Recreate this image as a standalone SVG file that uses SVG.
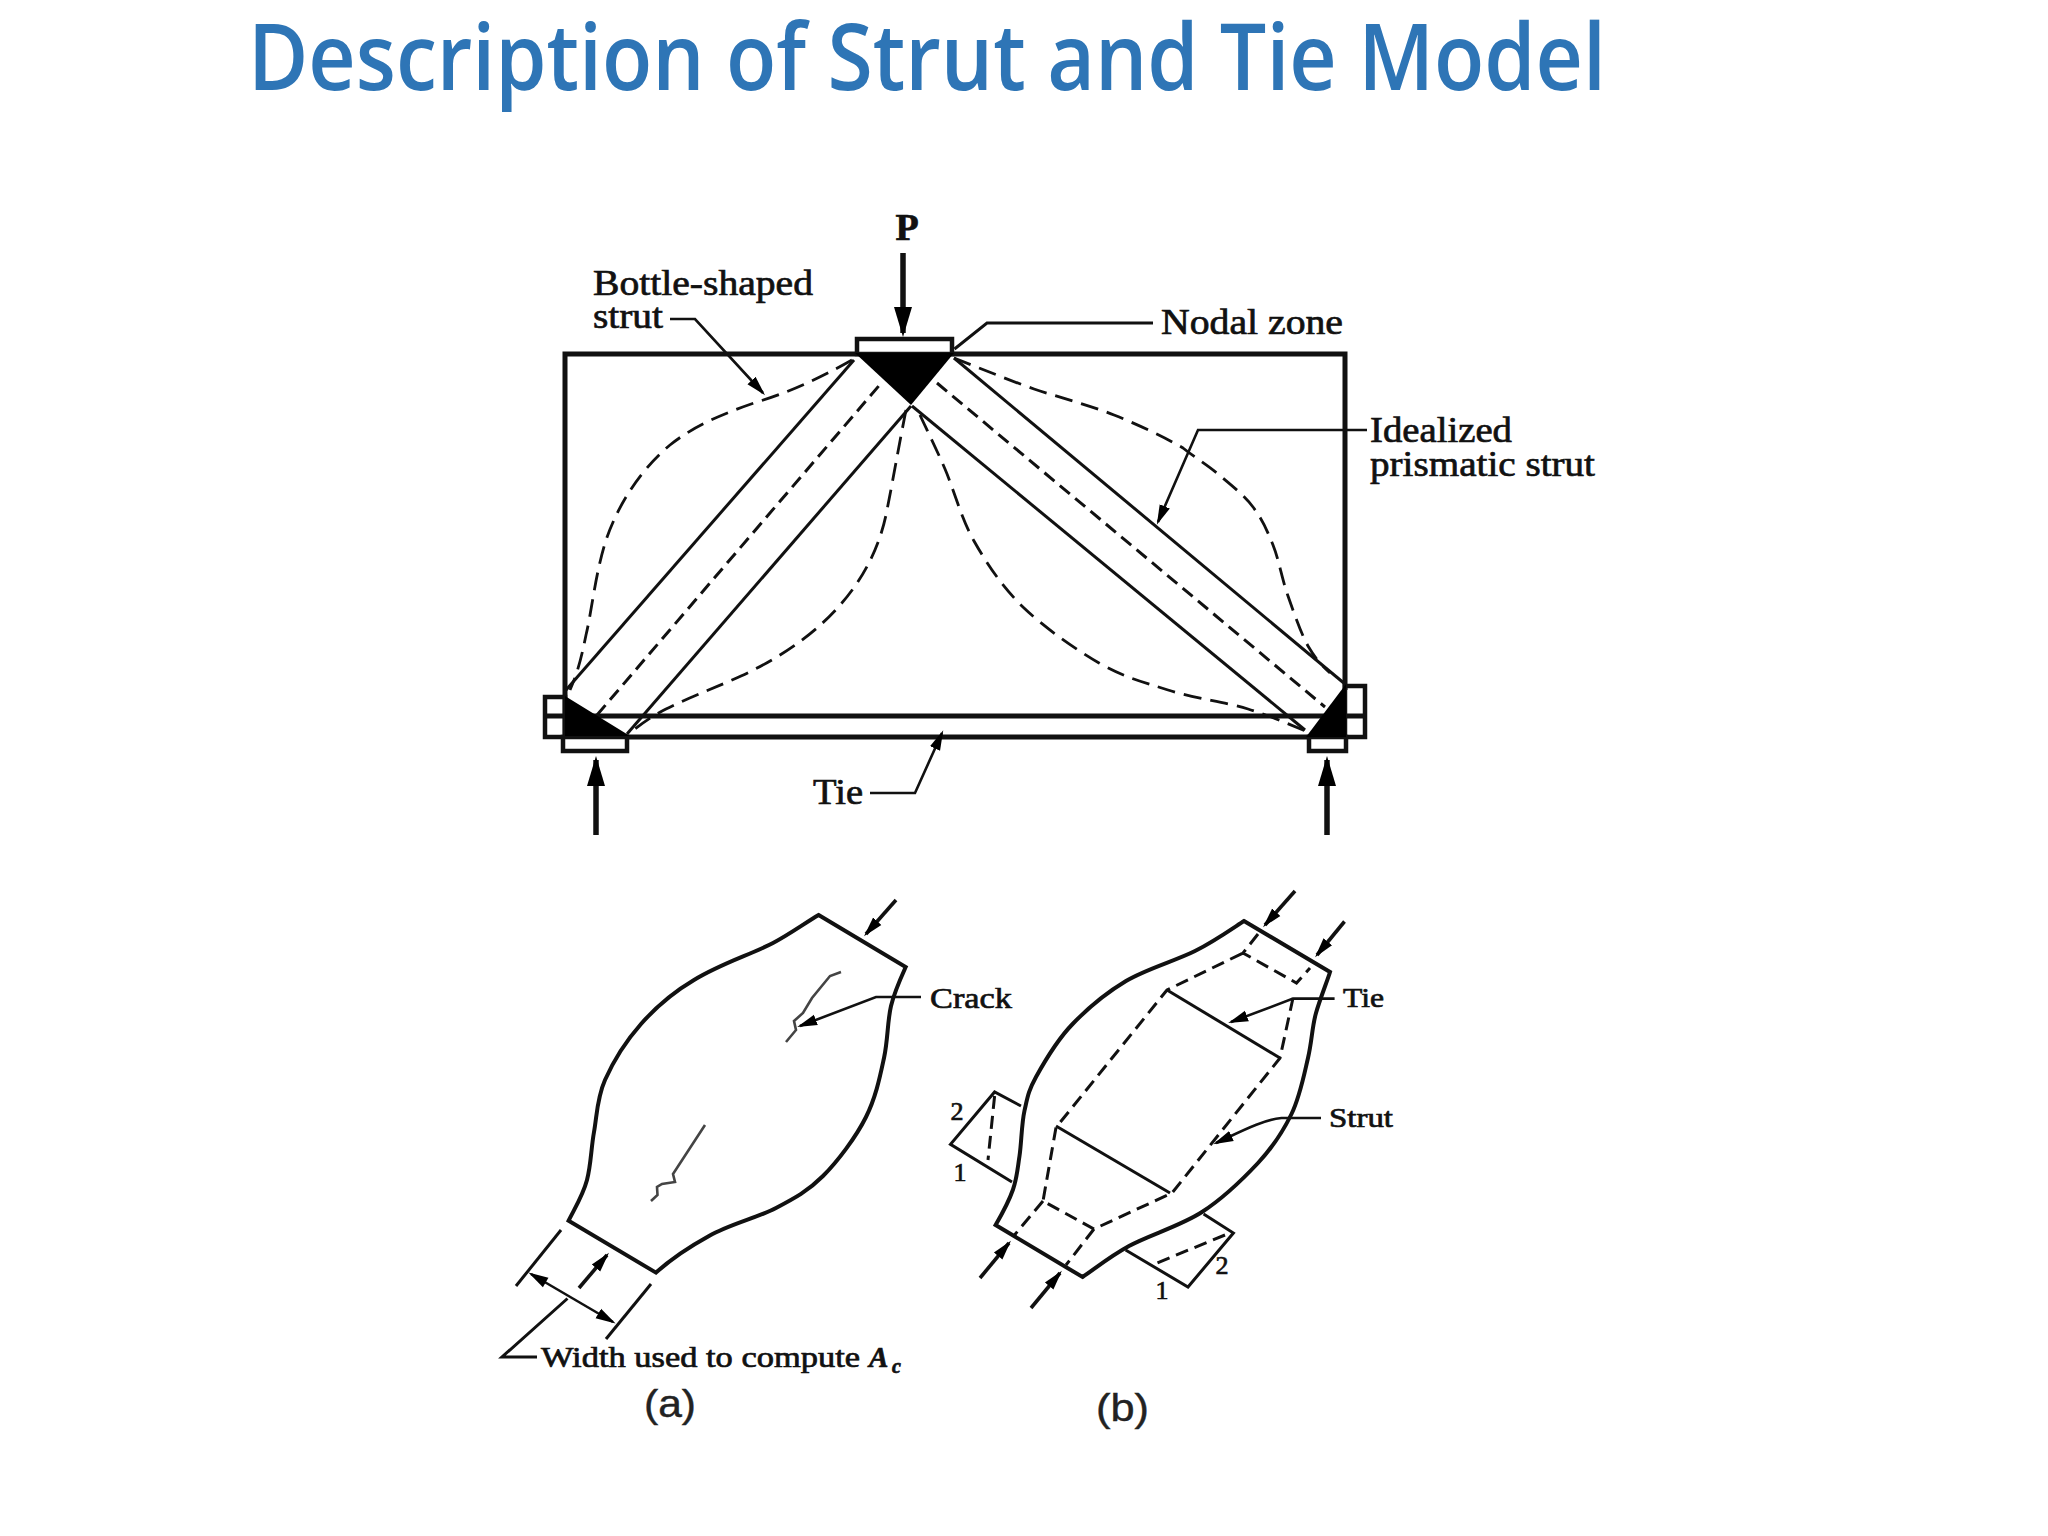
<svg xmlns="http://www.w3.org/2000/svg" width="2048" height="1536" viewBox="0 0 2048 1536">
<style>
.t{font-family:"Liberation Serif","Times New Roman",serif;fill:#111;stroke:#111;stroke-width:.7}
.s{font-family:"Liberation Sans",Arial,sans-serif;fill:#222;stroke:#222;stroke-width:.4;font-size:38px}
.title{font-family:"Open Sans","Noto Sans",sans-serif;font-size:92px;font-weight:600;fill:#2E75B6}
.m{fill:none;stroke:#111;stroke-width:5}
.o{fill:none;stroke:#111;stroke-width:4;stroke-linejoin:miter}
.l{fill:none;stroke:#111;stroke-width:3}
.c{fill:none;stroke:#444;stroke-width:2.6}
.d{fill:none;stroke:#111;stroke-width:3;stroke-dasharray:13 7}
.b{fill:none;stroke:#111;stroke-width:2.8;stroke-dasharray:18 9}
.f{fill:#000;stroke:none}
.p{fill:#fff;stroke:#111;stroke-width:4.5}
.ab{fill:none;stroke:#111;stroke-width:5.5;marker-end:url(#big)}
.as{fill:none;stroke:#111;stroke-width:3.6;marker-end:url(#sm)}
.ls{fill:none;stroke:#111;stroke-width:2.6;marker-end:url(#sm)}
</style>
<defs>
<marker id="big" markerUnits="userSpaceOnUse" markerWidth="32" markerHeight="20" refX="26" refY="10" orient="auto"><path d="M0,1 L30,10 L0,19 Z" fill="#000"/></marker>
<marker id="sm" markerUnits="userSpaceOnUse" markerWidth="22" markerHeight="14" refX="17" refY="7" orient="auto"><path d="M0,1.5 L20,7 L0,12.5 Z" fill="#000"/></marker>
<marker id="smr" markerUnits="userSpaceOnUse" markerWidth="22" markerHeight="14" refX="3" refY="7" orient="auto"><path d="M20,1.5 L0,7 L20,12.5 Z" fill="#000"/></marker>
</defs>
<rect width="2048" height="1536" fill="#fff"/>
<text id="title" class="title" x="248" y="90" textLength="1358" lengthAdjust="spacingAndGlyphs">Description of Strut and Tie Model</text>

<g id="beam">
<rect class="p" x="545" y="697" width="20" height="40"/>
<line class="m" x1="545" y1="716" x2="565" y2="716"/>
<rect class="p" x="1345" y="686" width="20" height="51"/>
<line class="m" x1="1345" y1="716" x2="1365" y2="716"/>
<path class="m" d="M565,737 V354 H1345 V690"/>
<line class="m" x1="565" y1="716" x2="1345" y2="716"/>
<line class="m" x1="565" y1="737" x2="1345" y2="737"/>
<rect class="p" x="857" y="339" width="95" height="15"/>
<rect class="p" x="563" y="737" width="64" height="14"/>
<rect class="p" x="1309" y="737" width="37" height="14"/>
<path class="f" d="M855,353 H954 L911,405 Z"/>
<path class="f" d="M565,696 L630,736 H565 Z"/>
<path class="f" d="M1346,684 V737 H1306 Z"/>
</g>
<g id="struts">
<line class="l" x1="566" y1="690" x2="854" y2="360"/>
<line class="d" x1="597" y1="715" x2="883" y2="381"/>
<line class="l" x1="627" y1="734" x2="911" y2="406"/>
<line class="l" x1="954" y1="358" x2="1345" y2="684"/>
<line class="d" x1="937" y1="383" x2="1325" y2="707"/>
<line class="l" x1="912" y1="406" x2="1305" y2="730"/>
<path class="b" d="M852,360 C820,378 790,392 757,402 C725,413 695,425 670,445 C640,470 618,505 606,540 C595,575 592,610 586,635 C582,655 578,672 570,690"/>
<path class="b" d="M906,410 C899,445 893,480 887,510 C880,548 862,580 841,604 C815,634 780,658 741,676 C715,688 690,697 666,709 C652,716 640,725 631,732"/>
<path class="b" d="M954,358 C967,363 1007,379.5 1034,389 C1061,398 1089,405 1114,415 C1139,425 1166,438 1183,448 C1194,457 1206,464 1218,474 C1230,484 1244,495 1253,507 C1262,519 1267,530 1273,545 C1279,560 1282,579 1288,596 C1294,613 1301,633.5 1308,646 C1315,658 1322,666 1330,673"/>
<path class="b" d="M920,415 C924,424 936,448 945,469 C954,490 961,518 974,541 C987,564 1003,588 1024,608 C1045,628 1075,649 1099,663 C1123,677 1143,682 1168,690 C1193,698 1225,702 1248,709 C1271,716 1298,728 1308,732"/>
</g>

<g id="panel-a">
<path class="o" d="M818.6,915 L905.7,967 C903,973 894.6,991 891,1006 C887.4,1021 888,1039.5 884,1058 C880,1076.5 876,1097 866,1117 C856,1137 838,1161 823,1176 C808,1191 795,1198 776,1208 C757,1218 730,1224 709,1236 C689,1247 670,1260 656,1272.6 L568.6,1220.7 C576,1206 583,1195 587,1180 C591,1165 591,1149 594,1132 C597,1115 597,1098 605,1080 C613,1062 626,1041 641,1024 C656,1007 672,993 694,980 C722,963 750,955 773,943 C790,934 805,923 818.6,915 Z"/>
<path class="c" d="M841,972 L830,976 L812,998 L803,1013 L794,1021 L796,1030 L786,1042"/>
<path class="c" d="M705,1125 L673,1174 L675,1182 L662,1184 L657,1187 L657.5,1195 L651,1201"/>
<line class="l" x1="561" y1="1230" x2="516" y2="1286"/>
<line class="l" x1="651" y1="1284" x2="606" y2="1339"/>
</g>
<g id="panel-b">
<path class="o" d="M1244,921 L1330,972 C1328,979 1320,999 1316,1013 C1312,1027 1312,1041 1308,1058 C1304,1075 1300,1096.5 1291.5,1114 C1283,1131.5 1273,1147 1258,1163 C1243,1179 1223.5,1198 1202,1212 C1180.5,1226 1149,1235 1129,1246 C1109,1257 1096,1268 1082.5,1277 L995.6,1225 C1002,1214 1009,1201 1013,1189.5 C1017,1178 1017.5,1169 1019.5,1156 C1021.5,1143 1021.5,1124 1024.5,1110.6 C1027.5,1097.6 1028,1091.5 1036,1077 C1044,1062.5 1057,1040 1072.6,1024 C1088,1008 1106,993 1126,981 C1146,969 1175,961 1195,951 C1215,941 1236,926 1244,921 Z"/>
<path class="d" d="M1258,934 L1243,953 L1296.5,983 L1310,968 M1293,998 L1280,1058 L1172,1193 L1094,1229 L1043,1201 L1056,1127.5 L1167,990 L1243,953 M1043,1201 L1014.5,1235 M1094,1229 L1066,1265"/>
<line class="l" x1="1167" y1="990" x2="1280" y2="1058"/>
<line class="l" x1="1056" y1="1126" x2="1170" y2="1193"/>
<path class="l" d="M1021,1106 L994.6,1092 L950.5,1144.4 L1012,1182"/>
<line class="d" x1="994.6" y1="1096" x2="988" y2="1160"/>
<path class="l" d="M1203.6,1214 L1233.4,1233 L1188,1287 L1125.6,1250"/>
<line class="d" x1="1225" y1="1235" x2="1157" y2="1263"/>
</g>

<g id="connectors">
<line class="ab" x1="903" y1="253" x2="903" y2="333"/>
<line class="ab" x1="596" y1="835" x2="596" y2="760"/>
<line class="ab" x1="1327" y1="835" x2="1327" y2="760"/>
<path class="ls" d="M670,319 H695 L763,393"/>
<path class="l" d="M954.5,349 L987,323 H1153"/>
<path class="ls" d="M1367,430 H1198 L1158,522"/>
<path class="ls" d="M870,793 H915 L942,733"/>
<line class="as" x1="896" y1="900" x2="866" y2="934"/>
<line class="as" x1="579" y1="1288" x2="607" y2="1255"/>
<path class="ls" d="M921,997 H876 L800,1026"/>
<line class="ls" x1="531" y1="1274" x2="613" y2="1322" style="marker-start:url(#smr)"/>
<path class="l" d="M567.5,1298.5 L502,1357 H537"/>
<line class="as" x1="1295" y1="891" x2="1265" y2="925"/>
<line class="as" x1="1344.5" y1="921.5" x2="1317" y2="955"/>
<line class="as" x1="980" y1="1278" x2="1009" y2="1243"/>
<line class="as" x1="1031" y1="1308" x2="1060" y2="1273"/>
<path class="ls" d="M1334.6,998.6 H1293 L1231,1022"/>
<path class="ls" d="M1321,1118 H1281.5 C1262,1120 1240,1132 1216,1143"/>
</g>

<g id="labels">
<text class="t" x="907" y="240" font-size="38" font-weight="700" text-anchor="middle">P</text>
<text class="t" x="593" y="295" font-size="36" textLength="220" lengthAdjust="spacingAndGlyphs">Bottle-shaped</text>
<text class="t" x="593" y="328" font-size="36" textLength="70" lengthAdjust="spacingAndGlyphs">strut</text>
<text class="t" x="1161" y="334" font-size="36" textLength="182" lengthAdjust="spacingAndGlyphs">Nodal zone</text>
<text class="t" x="1370" y="442" font-size="36" textLength="142" lengthAdjust="spacingAndGlyphs">Idealized</text>
<text class="t" x="1370" y="476" font-size="36" textLength="225" lengthAdjust="spacingAndGlyphs">prismatic strut</text>
<text class="t" x="813" y="804" font-size="36" textLength="50" lengthAdjust="spacingAndGlyphs">Tie</text>
<text class="t" x="930" y="1008" font-size="30" textLength="82" lengthAdjust="spacingAndGlyphs">Crack</text>
<text class="t" x="541" y="1367" font-size="29" textLength="319" lengthAdjust="spacingAndGlyphs">Width used to compute</text>
<text class="t" x="869" y="1367" font-size="29" font-weight="700" font-style="italic">A</text>
<text class="t" x="892" y="1373" font-size="20" font-weight="700" font-style="italic">c</text>
<text class="s" x="644" y="1417" textLength="52" lengthAdjust="spacingAndGlyphs">(a)</text>
<text class="t" x="1343" y="1007" font-size="28" textLength="41" lengthAdjust="spacingAndGlyphs">Tie</text>
<text class="t" x="1329" y="1127" font-size="28" textLength="64" lengthAdjust="spacingAndGlyphs">Strut</text>
<text class="t" x="957" y="1120" font-size="26" text-anchor="middle">2</text>
<text class="t" x="960" y="1181" font-size="26" text-anchor="middle">1</text>
<text class="t" x="1222" y="1274" font-size="26" text-anchor="middle">2</text>
<text class="t" x="1162" y="1299" font-size="26" text-anchor="middle">1</text>
<text class="s" x="1096" y="1421" textLength="53" lengthAdjust="spacingAndGlyphs">(b)</text>
</g>
</svg>
